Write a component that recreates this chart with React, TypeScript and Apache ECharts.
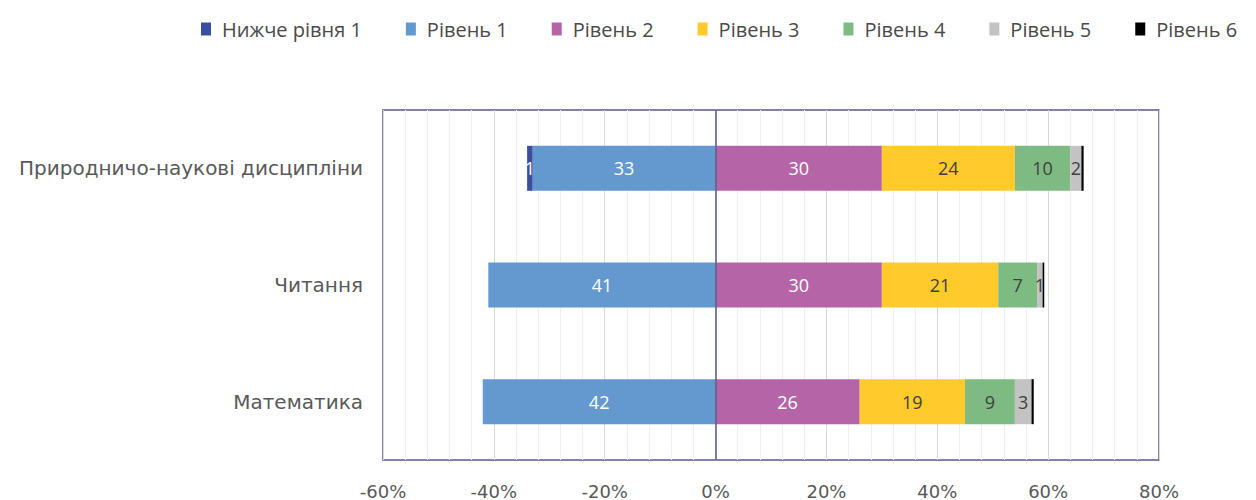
import React, { useEffect, useRef } from "react";
import * as echarts from "echarts";

const categories = ["Математика", "Читання", "Природничо-наукові дисципліни"];
const seriesNames = ["Нижче рівня 1", "Рівень 1", "Рівень 2", "Рівень 3", "Рівень 4", "Рівень 5", "Рівень 6"];
const belowLevel1 = [0, 0, 1];
const level1 = [42, 41, 33];
const level2 = [26, 30, 30];
const level3 = [19, 21, 24];
const level4 = [9, 7, 10];
const level5 = [3, 1, 2];
const level6 = [0.4, 0.3, 0.4];
const xTicks = [-60, -40, -20, 0, 20, 40, 60, 80];

const colors: Record<string, string> = {
  "Нижче рівня 1": "#3a4ea0",
  "Рівень 1": "#6399cf",
  "Рівень 2": "#b565a7",
  "Рівень 3": "#ffca2c",
  "Рівень 4": "#7dbb83",
  "Рівень 5": "#c3c3c3",
  "Рівень 6": "#000000",
};

export default function App() {
  const ref = useRef<HTMLDivElement>(null);
  useEffect(() => {
    if (!ref.current) return;
    const chart = echarts.init(ref.current, undefined, { renderer: "svg" });
    const mk = (name: string, vals: number[], negative: boolean, labelColor: string, showLabel: boolean) => ({
      name,
      type: "bar",
      stack: "total",
      barWidth: 45,
      data: vals.map((v) => (negative ? -v : v)),
      itemStyle: { color: colors[name] },
      label: {
        show: showLabel,
        position: "inside",
        color: labelColor,
        fontSize: 18,
        fontFamily: "Open Sans",
        formatter: (p: any) => {
          const v = Math.abs(p.value);
          return v >= 0.5 ? String(Math.round(v)) : "";
        },
      },
    });
    const series: any[] = [
      mk("Рівень 1", level1, true, "#ffffff", true),
      mk("Нижче рівня 1", belowLevel1, true, "#ffffff", true),
      mk("Рівень 2", level2, false, "#ffffff", true),
      mk("Рівень 3", level3, false, "#404040", true),
      mk("Рівень 4", level4, false, "#404040", true),
      mk("Рівень 5", level5, false, "#404040", true),
      mk("Рівень 6", level6, false, "#404040", false),
    ];
    series[0].markLine = {
      silent: true,
      symbol: "none",
      label: { show: false },
      lineStyle: { color: "#5b5a88", width: 1.5, type: "solid" },
      data: [{ xAxis: 0 }],
    };
    chart.setOption({
      animation: false,
      legend: {
        data: seriesNames.map((n, i) => ({
          name: n,
          textStyle: { width: i === 0 ? 163 : 92 },
        })),
        top: 14,
        left: 196,
        itemWidth: 10,
        itemHeight: 13,
        itemGap: 44,
        icon: "rect",
        textStyle: {
          fontSize: 20,
          color: "#4a4a4a",
          fontFamily: "Open Sans",
          padding: [0, 0, 0, 6],
        },
      },
      grid: {
        left: 383,
        right: 97,
        top: 110,
        bottom: 39,
        show: true,
        borderColor: "#5b5a88",
        borderWidth: 1.5,
        containLabel: false,
      },
      xAxis: {
        type: "value",
        min: xTicks[0],
        max: xTicks[xTicks.length - 1],
        interval: 20,
        axisLabel: {
          formatter: (v: number) => `${v}%`,
          fontSize: 18,
          color: "#595959",
          fontFamily: "DejaVu Sans",
          margin: 22,
        },
        axisLine: { show: false },
        axisTick: { show: false },
        splitLine: { show: true, lineStyle: { color: "#d9d9d9", width: 1 } },
        minorTick: { show: false, splitNumber: 5 },
        minorSplitLine: { show: true, lineStyle: { color: "#efefef", width: 1 } },
      },
      yAxis: {
        type: "category",
        data: categories,
        axisLine: { show: false },
        axisTick: { show: false },
        axisLabel: { fontSize: 20, color: "#595959", fontFamily: "DejaVu Sans", margin: 20 },
        splitLine: { show: false },
      },
      series,
    });
    return () => chart.dispose();
  }, []);
  return <div ref={ref} style={{ width: 1256, height: 500, position: "absolute", left: 0, top: 0 }} />;
}
